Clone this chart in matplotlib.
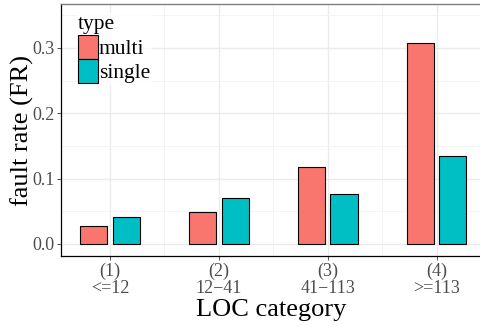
import matplotlib
matplotlib.use("Agg")
import matplotlib.pyplot as plt
from matplotlib.patches import Patch
import numpy as np

categories = ["(1)\n<=12", "(2)\n12\u221241", "(3)\n41\u2212113", "(4)\n>=113"]
types = ["multi", "single"]
multi = [0.028, 0.049, 0.118, 0.308]
single = [0.041, 0.070, 0.077, 0.135]
colors = {"multi": "#F8766D", "single": "#00BFC4"}

plt.rcParams['font.family'] = ['Liberation Serif', 'DejaVu Serif']

fig = plt.figure(figsize=(4.81, 3.26), dpi=100)
ax = fig.add_axes([61/481, 1 - 256/326, 1 - 61/481 + 0.001, (256 - 4)/326])

x = np.arange(1, len(categories) + 1)
w = 0.25
off = 0.15
ax.bar(x - off, multi, width=w, color=colors["multi"], edgecolor="black", linewidth=0.8, zorder=3)
ax.bar(x + off, single, width=w, color=colors["single"], edgecolor="black", linewidth=0.8, zorder=3)

ax.set_xlim(0.549, 4.413)
ax.set_ylim(-0.0184, 0.367)
ax.set_xticks(x)
ax.set_xticklabels(categories, linespacing=1.0)
ax.set_yticks([0.0, 0.1, 0.2, 0.3])
ax.set_yticklabels(["0.0", "0.1", "0.2", "0.3"])
ax.set_xticks([1.5, 2.5, 3.5], minor=True)
ax.set_yticks([0.05, 0.15, 0.25, 0.35], minor=True)
ax.tick_params(axis='both', which='major', labelsize=13, labelcolor="#4D4D4D",
               color="#333333", length=3, width=0.6, pad=1.5)
ax.tick_params(axis='both', which='minor', length=0)
ax.grid(which='major', color="#EBEBEB", linewidth=1.0, zorder=0)
ax.grid(which='minor', color="#F2F2F2", linewidth=0.6, zorder=0)
ax.set_axisbelow(True)

for s in ["left", "bottom"]:
    ax.spines[s].set_color("black")
    ax.spines[s].set_linewidth(0.9)
ax.spines["top"].set_color("#7F7F7F")
ax.spines["top"].set_linewidth(1.0)
ax.spines["right"].set_visible(False)

ax.set_xlabel("LOC category", fontsize=19, labelpad=2)
ax.set_ylabel("fault rate (FR)", fontsize=19, labelpad=-1)

handles = [Patch(facecolor=colors[t], edgecolor="black", linewidth=0.8) for t in types]
leg = ax.legend(handles, types, title="type", loc="upper left", bbox_to_anchor=(0.035, 0.965),
                fontsize=15.5, title_fontsize=15.5, frameon=True, fancybox=False,
                handlelength=0.93, handleheight=1.3, handletextpad=0.05, labelspacing=0.0,
                borderpad=0.1, borderaxespad=0.0)
leg.get_frame().set_edgecolor("none")
leg.get_frame().set_facecolor("white")
leg._legend_box.align = "left"
leg._legend_box.sep = 1

fig.savefig("out.png", dpi=100)
